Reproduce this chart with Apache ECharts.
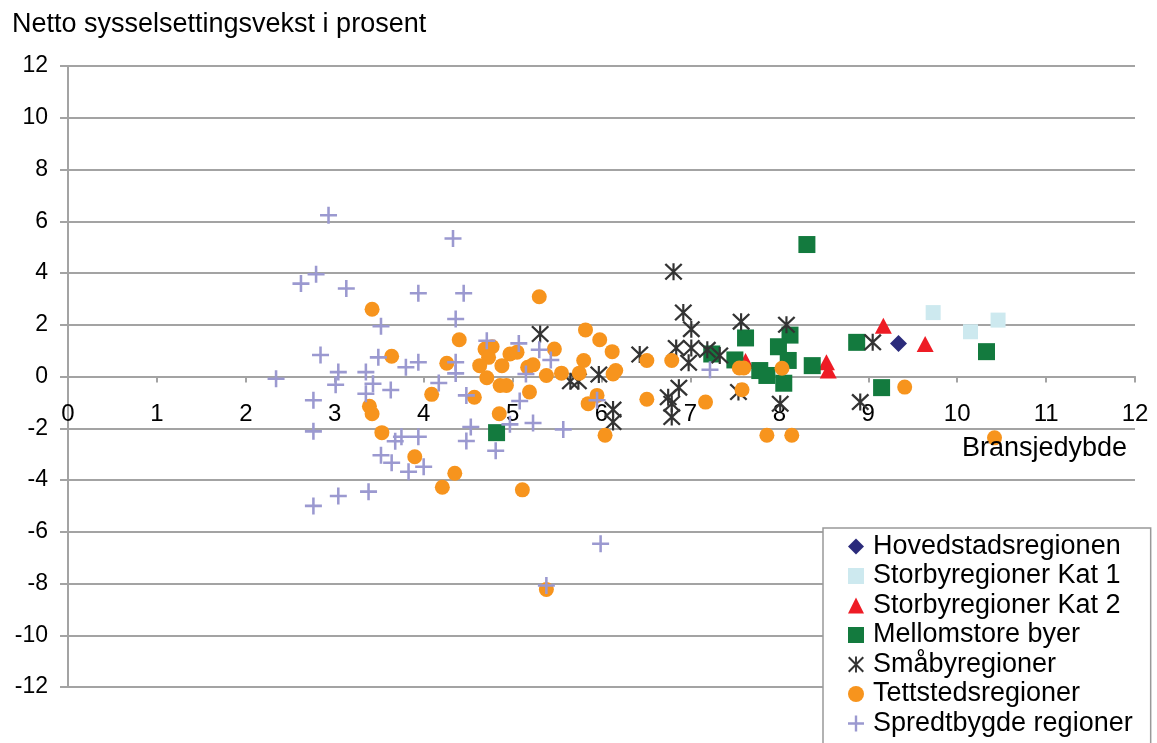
<!DOCTYPE html>
<html>
<head>
<meta charset="utf-8">
<script src="https://cdn.jsdelivr.net/npm/echarts@6/dist/echarts.min.js"></script>
<style>
html,body{margin:0;padding:0;background:#fff;}
#chart{width:1157px;height:743px;}
</style>
</head>
<body>
<div id="chart"></div>
<script>
// ---- Data (x = Bransjedybde, y = Netto sysselsettingsvekst i prosent) ----
const seriesNames = ['Hovedstadsregionen','Storbyregioner Kat 1','Storbyregioner Kat 2','Mellomstore byer','Småbyregioner','Tettstedsregioner','Spredtbygde regioner'];

const hovedstad = [[9.34,1.28]];

const storbyKat1 = [[9.73,2.47],[10.15,1.73],[10.46,2.18]];

const storbyKat2 = [[9.17,1.96],[9.64,1.26],[8.53,0.55],[8.55,0.23],[7.62,0.6]];

const mellomstore = [[4.82,-2.17],[8.31,5.10],[7.62,1.49],[8.12,1.60],[7.99,1.15],[8.87,1.32],[7.24,0.87],[7.50,0.64],[8.10,0.62],[8.37,0.42],[7.78,0.23],[7.86,0.04],[8.05,-0.26],[9.15,-0.43],[10.33,0.96]];

const smaby = [[5.31,1.64],[6.81,4.05],[6.92,2.47],[7.01,1.83],[7.57,2.12],[8.08,2.0],[9.05,1.32],[6.43,0.85],[6.84,1.10],[7.01,1.10],[6.98,0.53],[7.19,1.03],[7.33,0.81],[5.97,0.08],[5.65,-0.18],[5.74,-0.18],[6.87,-0.43],[6.75,-0.8],[6.79,-1.05],[6.79,-1.57],[6.13,-1.28],[6.13,-1.76],[7.54,-0.6],[8.01,-1.05],[8.91,-0.99]];

const tettsted = [[3.42,2.60],[5.30,3.08],[3.64,0.78],[4.40,1.42],[4.69,1.06],[4.77,1.15],[4.73,0.74],[4.63,0.42],[4.88,0.42],[4.97,0.87],[5.05,0.94],[5.17,0.36],[5.23,0.45],[5.47,1.06],[5.38,0.04],[5.55,0.13],[5.75,0.13],[5.80,0.62],[5.82,1.80],[5.98,1.42],[6.12,0.96],[6.16,0.23],[6.13,0.10],[6.51,0.62],[6.79,0.62],[4.26,0.51],[4.71,-0.05],[4.86,-0.35],[4.93,-0.35],[5.19,-0.6],[4.57,-0.8],[4.09,-0.69],[4.85,-1.44],[5.85,-1.05],[5.95,-0.73],[6.51,-0.88],[7.17,-0.99],[3.39,-1.15],[3.42,-1.44],[3.53,-2.17],[3.90,-3.10],[4.35,-3.74],[4.21,-4.28],[5.11,-4.38],[5.38,-8.23],[6.04,-2.27],[7.55,0.33],[7.60,0.33],[8.03,0.32],[7.58,-0.51],[7.86,-2.27],[8.14,-2.27],[9.41,-0.41],[10.42,-2.37]];

const spredtbygd = [[2.93,6.23],[4.33,5.33],[2.62,3.59],[2.79,3.95],[3.13,3.40],[3.94,3.22],[4.45,3.22],[4.36,2.22],[3.52,1.94],[4.71,1.38],[5.07,1.28],[5.30,1.03],[5.43,0.64],[2.84,0.83],[3.49,0.74],[3.94,0.55],[3.80,0.36],[4.36,0.55],[3.04,0.17],[3.35,0.17],[4.36,0.12],[5.15,0.10],[2.34,-0.09],[3.01,-0.32],[3.43,-0.28],[3.63,-0.52],[4.17,-0.25],[3.35,-0.67],[4.48,-0.73],[2.76,-0.92],[2.76,-2.12],[5.08,-0.95],[4.53,-1.95],[4.48,-2.49],[4.81,-2.87],[5.23,-1.8],[4.97,-1.85],[5.57,-2.05],[3.75,-2.33],[3.94,-2.33],[3.68,-2.5],[3.52,-3.04],[3.64,-3.33],[4.0,-3.49],[3.83,-3.68],[2.76,-5.0],[3.04,-4.62],[3.38,-4.45],[5.38,-8.08],[5.99,-6.46],[5.95,-0.92],[7.22,0.26]];

const xTicks = [0,1,2,3,4,5,6,7,8,9,10,11,12];
const yTicks = [-12,-10,-8,-6,-4,-2,0,2,4,6,8,10,12];

const FONT = '"Liberation Sans", Arial, sans-serif';
const GRAY = '#a3a3a3';

const plusPath = 'path://M8.5,0H11.5V8.5H20V11.5H11.5V20H8.5V11.5H0V8.5H8.5Z';
const starPath = 'path://M8.8,0H11.2V20H8.8Z M0,1.8L1.8,0L20,18.2L18.2,20Z M18.2,0L20,1.8L1.8,20L0,18.2Z';

const GRID = {left: 68, right: 22, top: 66, bottom: 56};
const plotH = 743 - GRID.top - GRID.bottom;
const yMin = yTicks[0], yMax = yTicks[yTicks.length-1];
// shift x axis up so it crosses the y axis at 0
const xAxisOffset = -plotH * (0 - yMin) / (yMax - yMin);

const chart = echarts.init(document.getElementById('chart'), null, {renderer:'canvas'});
chart.setOption({
  animation: false,
  backgroundColor: '#fff',
  title: {
    text: 'Netto sysselsettingsvekst i prosent',
    left: 7, top: 6,
    textStyle: {fontSize: 27, fontWeight: 'normal', color: '#000', fontFamily: FONT}
  },
  grid: Object.assign({containLabel: false}, GRID),
  xAxis: {
    type: 'value', min: xTicks[0], max: xTicks[xTicks.length-1], interval: 1,
    position: 'bottom', offset: xAxisOffset,
    axisLine: {show: true, onZero: false, lineStyle: {color: GRAY, width: 2}},
    axisTick: {show: true, inside: false, length: 6, lineStyle: {color: GRAY, width: 2}},
    axisLabel: {fontSize: 24, color: '#000', fontFamily: FONT, margin: 26},
    splitLine: {show: false}
  },
  yAxis: {
    type: 'value', min: yMin, max: yMax, interval: 2,
    axisLine: {show: true, lineStyle: {color: GRAY, width: 2}},
    axisTick: {show: true, inside: false, length: 8, lineStyle: {color: GRAY, width: 2}},
    axisLabel: {fontSize: 23, color: '#000', fontFamily: FONT, margin: 20},
    splitLine: {show: true, lineStyle: {color: GRAY, width: 2}}
  },
  legend: {
    orient: 'vertical', left: 823, top: 528, height: 300, width: 400,
    padding: [5, 18, 30, 25], itemGap: 2.5,
    itemWidth: 16, itemHeight: 16,
    backgroundColor: '#fff', borderColor: '#999', borderWidth: 1.5, borderRadius: 0,
    textStyle: {fontSize: 27, color: '#000', fontFamily: FONT, padding: [0, 0, 0, 4]},
    data: seriesNames
  },
  graphic: [{
    type: 'text', left: 962, top: 435, z: 10,
    style: {text: 'Bransjedybde', font: '27px "Liberation Sans", Arial, sans-serif', fill: '#000'}
  }],
  series: [
    {name: seriesNames[0], type: 'scatter', symbol: 'diamond', symbolSize: 17, itemStyle: {color: '#2b2b7b', opacity: 1}, data: hovedstad},
    {name: seriesNames[1], type: 'scatter', symbol: 'rect', symbolSize: 15, itemStyle: {color: '#cde9ef', opacity: 1}, data: storbyKat1},
    {name: seriesNames[2], type: 'scatter', symbol: 'triangle', symbolSize: [17,16], itemStyle: {color: '#ee1c25', opacity: 1}, data: storbyKat2},
    {name: seriesNames[3], type: 'scatter', symbol: 'rect', symbolSize: 17, itemStyle: {color: '#137a3e', opacity: 1}, data: mellomstore},
    {name: seriesNames[4], type: 'scatter', symbol: starPath, symbolSize: [18,17], itemStyle: {color: '#333333', opacity: 1}, data: smaby},
    {name: seriesNames[5], type: 'scatter', symbol: 'circle', symbolSize: 15, itemStyle: {color: '#f7941d', opacity: 1}, data: tettsted},
    {name: seriesNames[6], type: 'scatter', symbol: plusPath, symbolSize: 17, itemStyle: {color: '#9b99d0', opacity: 1}, data: spredtbygd}
  ]
});
</script>
</body>
</html>
